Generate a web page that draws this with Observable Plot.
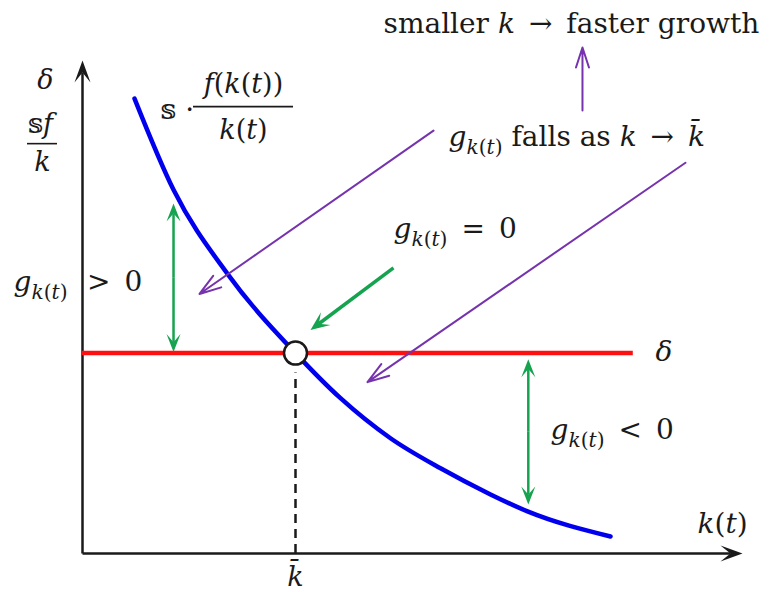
<!DOCTYPE html>
<html><head><meta charset="utf-8">
<script src="https://cdn.jsdelivr.net/npm/d3@7"></script>
<script src="https://cdn.jsdelivr.net/npm/@observablehq/plot@0.6"></script>
<style>
body{margin:0;background:#fff}
svg{display:block}
svg text, svg tspan{font-family:"DejaVu Serif",serif !important;}
</style>
</head><body><div id="chart"></div>
<script>
// Curve s·f(k)/k (abstract units)
const curveK = [0.867, 1.517, 2.417, 3.55, 4.3, 5.133, 5.967, 6.8, 7.417, 8.8];
const curveV = [7.567, 6.05, 4.65, 3.333, 2.583, 1.917, 1.417, 0.983, 0.7, 0.283];
// depreciation line delta and steady state
const deltaLevel = [3.333];
const deltaEnd = [9.18];
const kBar = [3.55];
// axes extents
const axisX = [11];
const axisY = [8.2];
// green arrows: double arrows (x, end A, end B) and single arrow
const gDoubleX = [1.517, 7.43];
const gDoubleA = [3.35, 3.233];
const gDoubleB = [5.82, 0.817];
const gSingleX1 = [5.183], gSingleY1 = [4.75], gSingleX2 = [3.8], gSingleY2 = [3.717];
// purple arrows
const pX1 = [5.85, 10.05, 8.333];
const pY1 = [7.033, 6.5, 7.367];
const pX2 = [1.95, 4.75, 8.333];
const pY2 = [4.317, 2.85, 8.417];
// labels (left-anchored)
const labStart = [
  "smaller $k$\u2002\u2192\u2002faster growth",
  "$g$_{$k$($t$)} falls as $k$\u2002\u2192\u2002$k\u0304$",
  "$g$_{$k$($t$)}\u2002=\u20020",
  "$g$_{$k$($t$)}\u2002\u2009>\u20020",
  "$g$_{$k$($t$)}\u2002<\u20020",
  "$\u03b4$",
  "$k$($t$)",
  "\ud835\udd64 \u00b7"
];
const labStartX = [5.017, 6.1, 5.183, -1.15, 7.8, 9.55, 10.25, 1.3];
const labStartY = [8.65, 6.783, 5.25, 4.367, 1.9, 3.2, 0.333, 7.233];
// labels (centered)
const labMid = ["$k\u0304$", "$\u03b4$", "\ud835\udd64$f$", "$k$", "$f$($k$($t$))", "$k$($t$)"];
const labMidX = [3.55, -0.617, -0.7, -0.667, 2.683, 2.683];
const labMidY = [-0.54, 7.733, 7.0, 6.367, 7.667, 6.9];
// fraction bars
const barY = [6.817, 7.433];
const barX1 = [-0.917, 1.85];
const barX2 = [-0.417, 3.517];

const green = "#16a34f", purple = "#7533ad", blue = "#0000ee", red = "#ff1010", ink = "#1a1a1a";
const PX = 60; // pixels per unit on both scales (set by margins/domains below)

// stealth arrow-head symbol pointing up, tip at origin
const stealth = (len, half, notch) => ({
  draw(ctx) {
    ctx.moveTo(0, 0);
    ctx.lineTo(half, len);
    ctx.lineTo(0, len * notch);
    ctx.lineTo(-half, len);
    ctx.closePath();
  }
});
// build shaft (shortened to the notch) + head for a list of arrows
function headed(x1, y1, x2, y2, color, width, len, half, notch) {
  const rows = x1.map((_, i) => {
    const dx = x2[i] - x1[i], dy = y2[i] - y1[i];
    const L = Math.hypot(dx, dy), back = (len * notch) / PX;
    return {x1: x1[i], y1: y1[i], x2: x2[i], y2: y2[i],
      sx: x2[i] - dx / L * back, sy: y2[i] - dy / L * back,
      rot: Math.atan2(dx, dy) * 180 / Math.PI};
  });
  return [
    Plot.link(rows, {x1: "x1", y1: "y1", x2: "sx", y2: "sy", stroke: color, strokeWidth: width}),
    Plot.dot(rows, {x: "x2", y: "y2", symbol: stealth(len, half, notch), rotate: "rot", fill: color, stroke: "none", r: 5})
  ];
}
const mid = gDoubleX.map((x, i) => (gDoubleA[i] + gDoubleB[i]) / 2);

const chart = Plot.plot({
  width: 769, height: 592,
  marginLeft: 82, marginRight: 27, marginTop: 60, marginBottom: 39,
  x: {domain: [0, 11], axis: null},
  y: {domain: [0, 8.2], axis: null},
  style: {fontFamily: "DejaVu Serif, serif", background: "white", color: ink},
  marks: [
    // axes
    ...headed([0, 0], [0, 0], [axisX[0], 0], [0, axisY[0]], ink, 2.5, 22, 8, 0.55),
    // dashed steady state line
    Plot.ruleX(kBar, {x: d => d, y1: 0, y2: deltaLevel[0] - 0.33, stroke: ink, strokeWidth: 2.5, strokeDasharray: "9,6"}),
    // delta line
    Plot.ruleY(deltaLevel, {y: d => d, x1: 0, x2: deltaEnd, stroke: red, strokeWidth: 4.5}),
    // curve
    Plot.line(curveK, {x: curveK, y: curveV, stroke: blue, strokeWidth: 4.5, curve: "monotone-x"}),
    // green double arrows
    ...headed(gDoubleX, mid, gDoubleX, gDoubleA, green, 2.5, 18, 7, 0.55),
    ...headed(gDoubleX, mid, gDoubleX, gDoubleB, green, 2.5, 18, 7, 0.55),
    // green single arrow
    ...headed(gSingleX1, gSingleY1, gSingleX2, gSingleY2, green, 3.5, 19, 8, 0.55),
    // purple arrows
    Plot.arrow(pX1, {x1: pX1, y1: pY1, x2: pX2, y2: pY2, stroke: purple, strokeWidth: 2, headLength: 17, headAngle: 36}),
    // steady-state circle
    Plot.dot(kBar, {x: d => d, y: deltaLevel[0], r: 11.5, fill: "white", stroke: ink, strokeWidth: 2.5}),
    // fraction bars
    Plot.ruleY(barY, {y: barY, x1: barX1, x2: barX2, stroke: ink, strokeWidth: 1.6}),
    // labels
    Plot.text(labStart, {x: labStartX, y: labStartY, text: d => d, textAnchor: "start", lineAnchor: "bottom", fontSize: 28, fill: ink}),
    Plot.text(labMid, {x: labMidX, y: labMidY, text: d => d, textAnchor: "middle", lineAnchor: "bottom", fontSize: 27, fill: ink})
  ]
});
document.getElementById("chart").appendChild(chart);

// rich-text: $..$ italic, _{..} subscript
function parse(str) {
  const segs = []; let it = false, sub = false, buf = "";
  const push = () => { if (buf) segs.push({t: buf, it, sub}); buf = ""; };
  for (let i = 0; i < str.length; i++) {
    const c = str[i];
    if (c === "$") { push(); it = !it; }
    else if (c === "_" && str[i + 1] === "{") { push(); sub = true; i++; }
    else if (c === "}" && sub) { push(); sub = false; }
    else buf += c;
  }
  push(); return segs;
}
d3.select(chart).selectAll("text").each(function() {
  const el = this, s = el.textContent;
  const base = parseFloat(getComputedStyle(el).fontSize) || 28;
  const segs = parse(s);
  el.textContent = "";
  let off = 0;
  segs.forEach(sg => {
    const ts = d3.select(el).append("tspan").text(sg.t);
    if (sg.it) ts.attr("font-style", "italic");
    const target = sg.sub ? base * 0.28 : 0;
    if (target !== off) { ts.attr("dy", target - off); off = target; }
    if (sg.sub) ts.attr("font-size", base * 0.72);
  });
});
</script>
</body></html>
